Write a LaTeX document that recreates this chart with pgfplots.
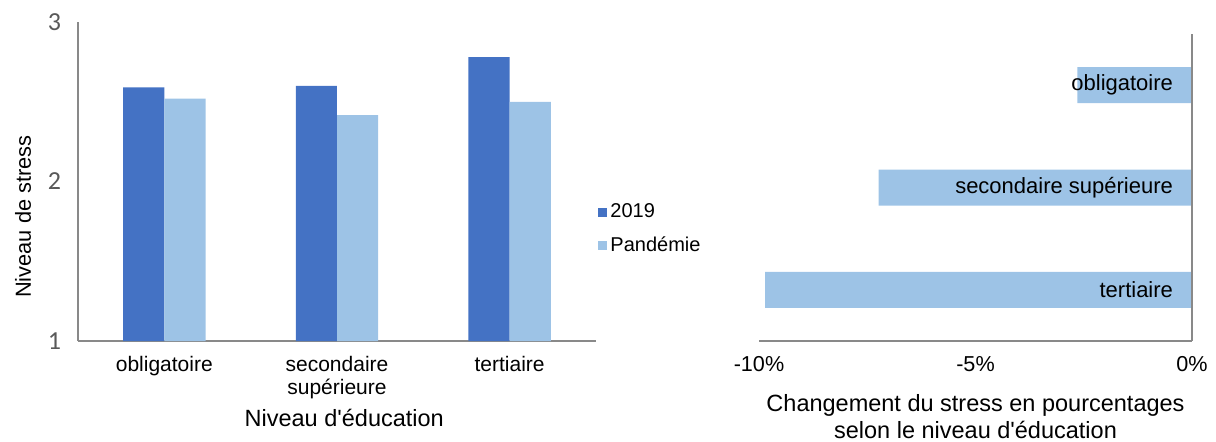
\documentclass[border=0pt]{standalone}
\usepackage{fontspec}
\setmainfont{Liberation Sans}[Ligatures=TeXOff]
\newfontfamily\tickfont{Carlito}
\usepackage{pgfplots}
\pgfplotsset{compat=1.18}
\definecolor{darkb}{HTML}{4472C4}
\definecolor{lightb}{HTML}{9DC3E6}
\definecolor{axgray}{HTML}{898989}
\definecolor{tickgray}{HTML}{595959}

\begin{document}
\begin{tikzpicture}
\useasboundingbox (0,0) rectangle (608pt,220.5pt);
\begin{axis}[
  at={(39pt,50pt)}, anchor=south west,
  scale only axis, width=259pt, height=159.5pt,
  xmin=-0.5, xmax=2.5, ymin=1, ymax=3,
  ybar=0pt, bar width=20.6pt,
  every axis plot post/.append style={legend image code/.code={\fill[##1] (0pt,-2.25pt) rectangle (4.5pt,2.25pt);}},
  xtick={0,1,2}, xticklabels={obligatoire, secondaire\\supérieure, tertiaire},
  xticklabel style={align=center, font=\fontsize{10.5}{11.5}\selectfont, yshift=-4pt},
  ytick={1,2,3},
  /pgf/number format/assume math mode=true,
  yticklabel style={font=\tickfont\fontsize{13}{14}\selectfont, text=tickgray, xshift=-5pt},
  axis x line*=bottom, axis y line*=left,
  axis line style={axgray, line width=0.6pt},
  major tick length=0pt,
  xlabel={Niveau d'éducation},
  ylabel={Niveau de stress},
  xlabel style={font=\fontsize{11.75}{13}\selectfont, at={(axis description cs:0.514,0)}, anchor=center, yshift=-38.5pt},
  ylabel style={font=\fontsize{10.9}{12}\selectfont, at={(axis description cs:-0.106,0.39)}, anchor=center},
  legend style={at={(axis description cs:1.004,0.35)}, anchor=west, draw=none, fill=none,
    font=\fontsize{10}{12}\selectfont, row sep=5pt, inner sep=0pt, nodes={inner sep=1.5pt}},
  legend cell align=left,
]
\addplot[fill=darkb, draw=none] coordinates {(0,2.59) (1,2.60) (2,2.78)};
\addplot[fill=lightb, draw=none] coordinates {(0,2.52) (1,2.416) (2,2.50)};
\legend{2019, Pandémie}
\end{axis}

\begin{axis}[
  at={(379.5pt,50pt)}, anchor=south west,
  scale only axis, width=216.5pt, height=153.5pt,
  xmin=-10, xmax=0, ymin=-0.5, ymax=2.5,
  xbar=0pt, bar width=18pt,
  xtick={-10,-5,0}, xticklabels={-10\%,-5\%,0\%},
  xticklabel style={font=\fontsize{10.8}{12}\selectfont, yshift=-4pt},
  ytick={0,1,2}, yticklabels={tertiaire, secondaire supérieure, obligatoire},
  yticklabel pos=right,
  yticklabel style={anchor=east, xshift=-6pt, font=\fontsize{11}{12}\selectfont},
  axis x line*=bottom, axis y line*=right,
  axis line style={axgray, line width=0.6pt},
  major tick length=0pt,
  axis on top,
  xlabel={Changement du stress en pourcentages\\selon le niveau d'éducation},
  xlabel style={font=\fontsize{11.75}{13.5}\selectfont, align=center, at={(axis description cs:0.5,0)}, anchor=center, yshift=-38pt},
]
\addplot[fill=lightb, draw=none] coordinates {(-9.86,0) (-7.24,1) (-2.65,2)};
\end{axis}
\end{tikzpicture}
\end{document}
